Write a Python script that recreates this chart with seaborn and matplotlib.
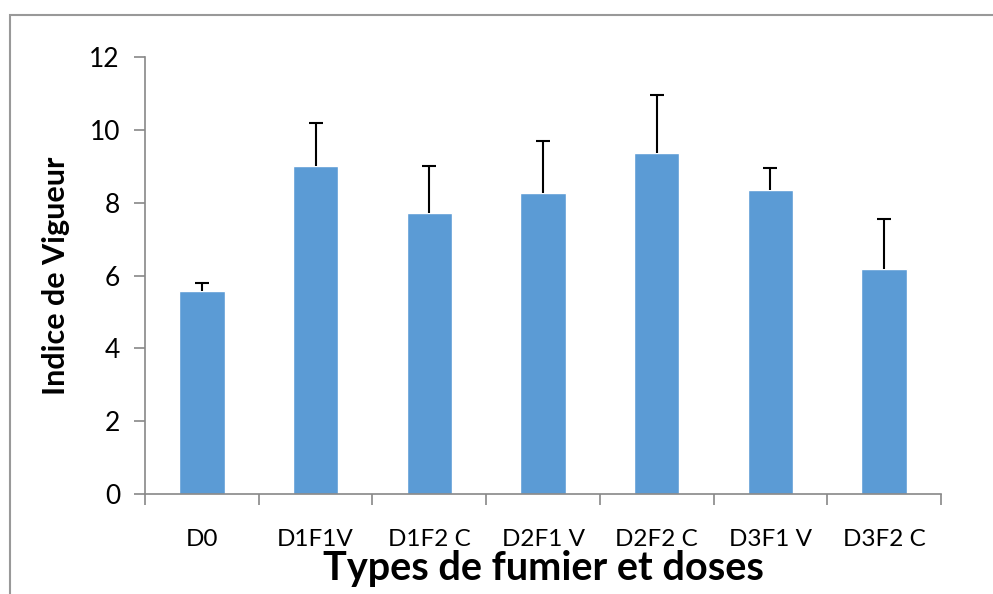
import numpy as np
import pandas as pd
import matplotlib.pyplot as plt
import seaborn as sns
from matplotlib.patches import Rectangle
from matplotlib.ticker import FixedLocator

# data
categories = ["D0", "D1F1V", "D1F2 C", "D2F1 V", "D2F2 C", "D3F1 V", "D3F2 C"]
vigueur = [5.57, 9.0, 7.72, 8.26, 9.36, 8.35, 6.18]
erreur = [0.22, 1.19, 1.28, 1.43, 1.6, 0.6, 1.37]

df = pd.DataFrame({"type": categories, "indice": vigueur})

sns.set_style("white")
plt.rcParams['font.family'] = ['Lato', 'DejaVu Sans']
plt.rcParams['text.color'] = 'black'
plt.rcParams['axes.labelcolor'] = 'black'
plt.rcParams['xtick.color'] = 'black'
plt.rcParams['ytick.color'] = 'black'

fig = plt.figure(figsize=(9.93, 5.94), dpi=100)
ax = fig.add_axes([145/993, 1 - 494/594, (941 - 145)/993, (494 - 57)/594])

sns.barplot(data=df, x="type", y="indice", color="#5B9BD5", saturation=1,
            width=0.4, errorbar=None, ax=ax)

# only the upper half of the error bars
xpos = np.arange(len(categories))
eb = ax.errorbar(xpos, vigueur, yerr=[np.zeros(len(erreur)), erreur], fmt="none",
                 ecolor="black", elinewidth=1.5, capsize=5, capthick=1.5)
eb[1][0].set_visible(False)  # lower caps

ax.set_ylim(0, 12)
ax.set_xlim(-0.5, len(categories) - 0.5)
ax.set_yticks(range(0, 13, 2))
ax.tick_params(axis="y", labelsize=19, length=8, color="#888888", width=1.2,
               labelcolor="black", left=True, direction="out", pad=10)
ax.tick_params(axis="x", which="major", labelsize=17.5, length=0, pad=25,
               labelcolor="black")
ax.xaxis.set_minor_locator(FixedLocator(np.arange(-0.5, len(categories), 1)))
ax.tick_params(axis="x", which="minor", length=8, color="#888888", width=1.2,
               bottom=True, direction="out")

for side in ["top", "right"]:
    ax.spines[side].set_visible(False)
for side in ["left", "bottom"]:
    ax.spines[side].set_color("#888888")
    ax.spines[side].set_linewidth(1.2)

ax.set_xlabel("Types de fumier et doses", fontsize=28.5, fontweight="bold", labelpad=0)
ax.set_ylabel("Indice de Vigueur", fontsize=22, fontweight="bold", labelpad=14)

# outer frame of the chart area
fig.patches.append(Rectangle((10/993, -0.1), 1.2, 1 - 15/594 + 0.1,
                             transform=fig.transFigure, fill=False,
                             edgecolor="#999999", linewidth=1.5))

fig.savefig("out.png", dpi=100)
